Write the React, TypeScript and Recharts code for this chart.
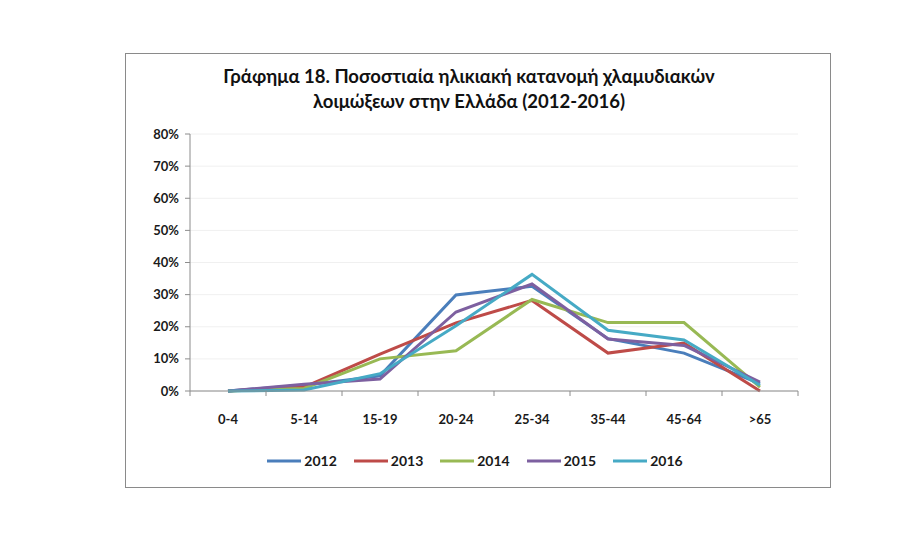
import React from 'react';
import { CartesianGrid, Legend, Line, LineChart, XAxis, YAxis } from 'recharts';

const ageGroups = ['0-4', '5-14', '15-19', '20-24', '25-34', '35-44', '45-64', '>65'];
const y2012 = [0, 1.8, 4.7, 29.9, 32.6, 16.3, 11.8, 2.3];
const y2013 = [0, 1.2, 11.5, 21.2, 28.2, 11.8, 14.9, 0];
const y2014 = [0, 0.8, 10, 12.5, 28.5, 21.3, 21.3, 1.2];
const y2015 = [0, 2.1, 3.7, 24.6, 33.3, 16.2, 14.2, 2.8];
const y2016 = [0, 0.3, 5.4, 20.3, 36.3, 18.9, 15.9, 1.8];
const yTicks = [0, 10, 20, 30, 40, 50, 60, 70, 80];

const seriesList = [
  { key: '2012', values: y2012, color: '#4A7EBB' },
  { key: '2013', values: y2013, color: '#BE4B48' },
  { key: '2014', values: y2014, color: '#98B954' },
  { key: '2015', values: y2015, color: '#7D60A0' },
  { key: '2016', values: y2016, color: '#46AAC5' },
];

const data = ageGroups.map((g, i) => {
  const row: Record<string, string | number> = { group: g };
  seriesList.forEach((s) => {
    row[s.key] = s.values[i];
  });
  return row;
});

const FONT = 'Lato, "Open Sans", sans-serif';

function GroupTick(props: any) {
  const { x, y, payload, index } = props;
  const half = payload && payload.offset ? payload.offset : 38;
  const last = index === ageGroups.length - 1;
  return (
    <g>
      <line x1={x - half} x2={x - half} y1={y - 8} y2={y - 3} stroke="#8c8c8c" />
      {last && <line x1={x + half} x2={x + half} y1={y - 8} y2={y - 3} stroke="#8c8c8c" />}
      <text x={x} y={y + 25} textAnchor="middle" fontSize={13} fontWeight={700} fill="#1a1a1a" fontFamily={FONT}>
        {payload.value}
      </text>
    </g>
  );
}

function LegendContent(props: any) {
  const items = props.payload || [];
  return (
    <div style={{ display: 'flex', justifyContent: 'center', gap: 17, fontFamily: FONT, fontWeight: 700, fontSize: 14, color: '#1a1a1a' }}>
      {items.map((it: any) => (
        <div key={it.value} style={{ display: 'flex', alignItems: 'center', gap: 3 }}>
          <svg width={34} height={8}>
            <line x1={0} x2={34} y1={4} y2={4} stroke={it.color} strokeWidth={3} />
          </svg>
          <span>{it.value}</span>
        </div>
      ))}
    </div>
  );
}

export default function App() {
  return (
    <div style={{ position: 'fixed', left: 0, top: 0, width: 921, height: 537, background: '#fff' }}>
      <div
        style={{
          position: 'absolute',
          left: 125,
          top: 53,
          width: 704,
          height: 433,
          border: '1px solid #8a8a8a',
        }}
      />
      <div
        style={{
          position: 'absolute',
          left: 125,
          top: 64,
          width: 688,
          textAlign: 'center',
          fontFamily: FONT,
          fontWeight: 700,
          fontSize: 18.5,
          lineHeight: '25px',
          color: '#111',
        }}
      >
        Γράφημα 18. Ποσοστιαία ηλικιακή κατανομή χλαμυδιακών
        <br />
        λοιμώξεων στην Ελλάδα (2012-2016)
      </div>
      <div style={{ position: 'absolute', left: 0, top: 0 }}>
        <LineChart width={921} height={537} data={data} margin={{ left: 130, right: 123, top: 134, bottom: 89 }}>
          <CartesianGrid stroke="#f0f0f0" vertical={false} />
          <XAxis
            dataKey="group"
            scale="band"
            stroke="#8c8c8c"
            tickLine={false}
            tick={<GroupTick />}
            interval={0}
            height={40}
          />
          <YAxis
            domain={[0, 80]}
            ticks={yTicks}
            tickFormatter={(v) => `${v}%`}
            stroke="#8c8c8c"
            tickSize={5}
            tickMargin={6}
            width={60}
            tick={{ fontSize: 13, fontWeight: 700, fill: '#1a1a1a', fontFamily: FONT }}
          />
          {seriesList.map((s) => (
            <Line
              key={s.key}
              dataKey={s.key}
              name={s.key}
              stroke={s.color}
              strokeWidth={3}
              dot={false}
              isAnimationActive={false}
            />
          ))}
          <Legend
            content={<LegendContent />}
            wrapperStyle={{ position: 'absolute', left: 0, top: 452, width: 950 }}
          />
        </LineChart>
      </div>
    </div>
  );
}
